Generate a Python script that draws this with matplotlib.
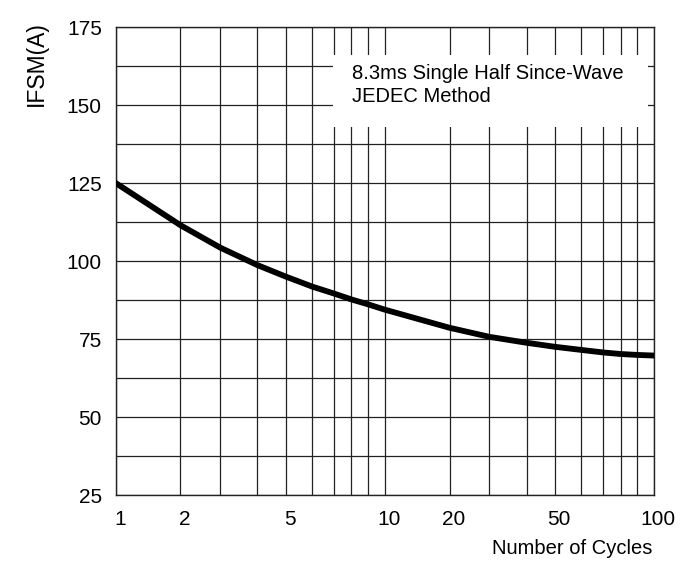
"""Surge current vs. number of cycles (IFSM derating curve)."""

import matplotlib

matplotlib.use("Agg")
import matplotlib.pyplot as plt
import matplotlib.transforms as mtransforms
import numpy as np
from matplotlib.patches import Rectangle

plt.rcParams["font.family"] = ["Liberation Sans", "DejaVu Sans"]

# curve
cycles = [1, 2, 3, 4, 5, 6, 7, 8, 9, 10, 20, 30, 40, 50, 60, 70, 80, 90, 100]
ifsm = [125.0, 111.5, 104.3, 98.7, 95.0, 91.8, 89.6, 87.7, 86.1, 84.4,
        78.6, 75.7, 73.8, 72.5, 71.5, 70.7, 70.2, 69.9, 69.7]

x_ticks = [1, 2, 5, 10, 20, 50, 100]
y_ticks = [25, 50, 75, 100, 125, 150, 175]

# the printed grid is not a true log grid: where 1..10 sit inside one decade
MANTISSA = np.arange(1, 11)
DECADE_FRAC = np.array([0.0, 0.240, 0.388, 0.526, 0.632, 0.730,
                        0.810, 0.875, 0.938, 1.0])


def _fwd(x):
    x = np.clip(np.asarray(x, dtype=float), 1e-6, None)
    d = np.floor(np.log10(x) + 1e-9)
    m = x / 10.0 ** d
    return d + np.interp(m, MANTISSA, DECADE_FRAC)


def _inv(y):
    y = np.asarray(y, dtype=float)
    d = np.floor(y + 1e-9)
    m = np.interp(y - d, DECADE_FRAC, MANTISSA)
    return m * 10.0 ** d


fig = plt.figure(figsize=(6.93, 5.69), dpi=100)
ax = fig.add_axes([0.167, 0.130, 0.777, 0.8225])
ax.set_xscale("function", functions=(_fwd, _inv))
ax.set_xlim(1, 100)
ax.set_ylim(25, 175)

grid_x = list(range(1, 10)) + list(range(10, 101, 10))
ax.set_xticks(grid_x, minor=True)
ax.set_xticks(x_ticks)
ax.set_xticklabels([str(v) for v in x_ticks], fontsize=15)
ax.set_yticks(np.arange(25, 176, 12.5), minor=True)
ax.set_yticks(y_ticks)
ax.set_yticklabels([str(v) for v in y_ticks], fontsize=15)
ax.tick_params(which="both", length=0)
ax.tick_params(axis="x", pad=11)
ax.tick_params(axis="y", pad=10)
# labels in the scan sit a few pixels right of their grid lines
shift = mtransforms.ScaledTranslation(4 / 100, 0, fig.dpi_scale_trans)
for lab in ax.get_xticklabels():
    lab.set_transform(lab.get_transform() + shift)

ax.grid(True, which="both", color="#222222", linewidth=0.9)
for s in ax.spines.values():
    s.set_linewidth(1.0)
    s.set_color("#222222")

ax.plot(cycles, ifsm, color="black", linewidth=4.2, solid_capstyle="round",
        zorder=3)

# white box masking the grid behind the note
ax.add_patch(Rectangle((0.403, 0.786), 0.585, 0.154, transform=ax.transAxes,
                       facecolor="white", edgecolor="none", zorder=2.5))
ax.text(0.438, 0.922, "8.3ms Single Half Since-Wave\nJEDEC Method",
        transform=ax.transAxes, ha="left", va="top", fontsize=14.5,
        linespacing=1.3, zorder=4)

fig.text(0.942, 0.036, "Number of Cycles", ha="right", va="center",
         fontsize=14.5)
fig.text(0.052, 0.888, "IFSM(A)", rotation=90, ha="center", va="center",
         fontsize=16.5)

fig.savefig("out.png", dpi=100)
